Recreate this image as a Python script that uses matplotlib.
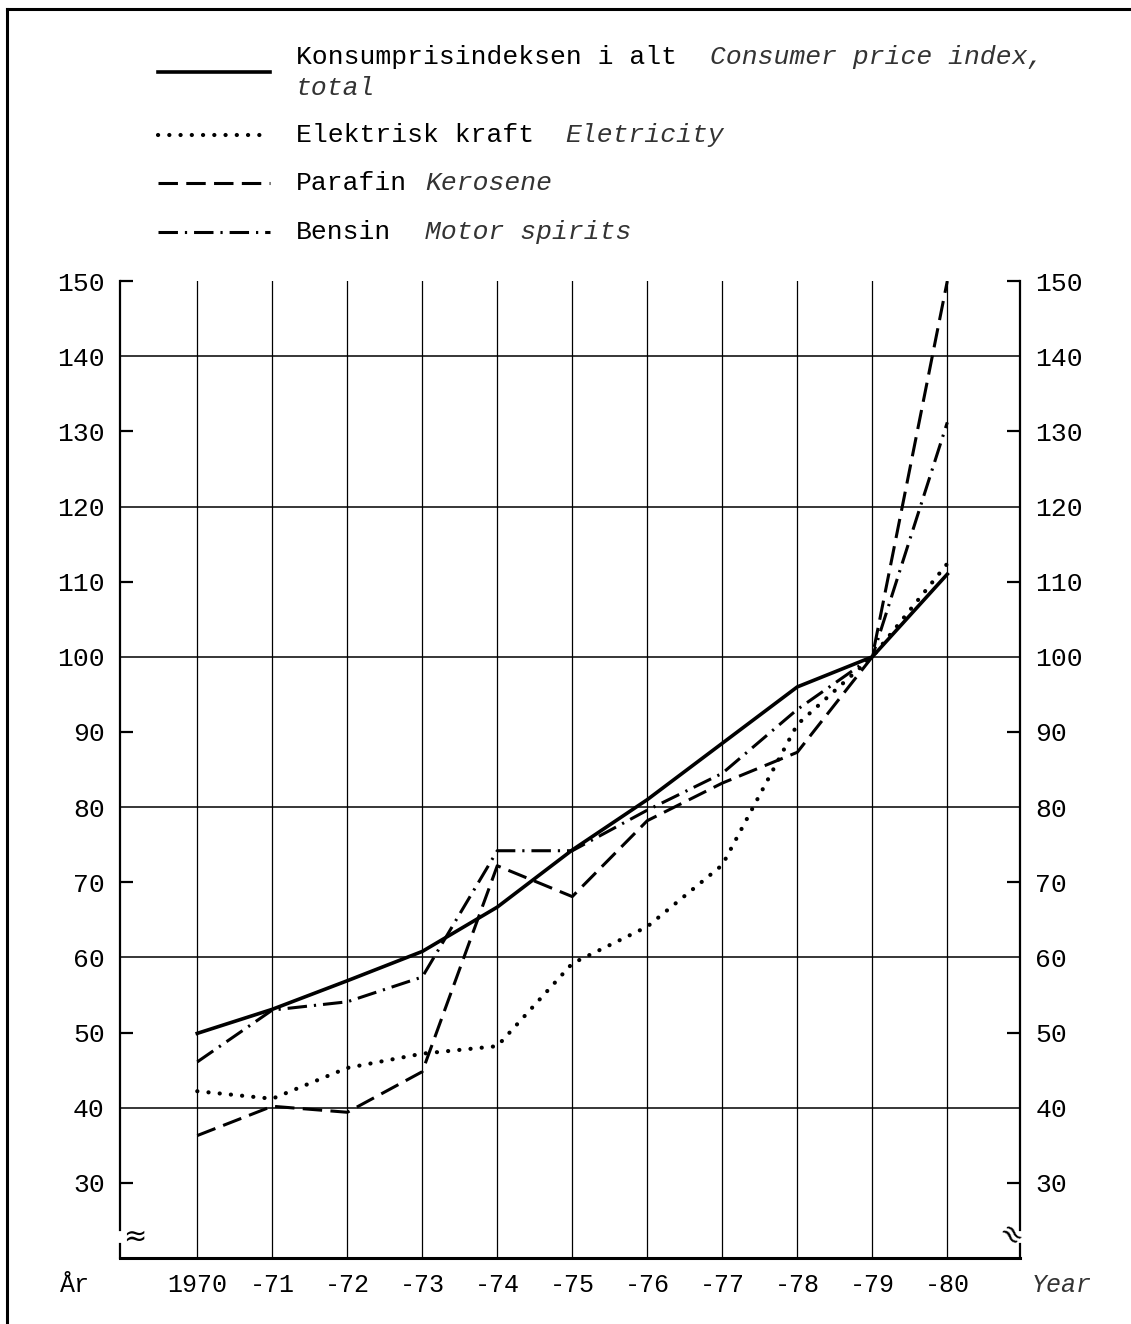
import matplotlib.pyplot as plt
from matplotlib.lines import Line2D

# price indices, 1979 = 100
years = [1970, 1971, 1972, 1973, 1974, 1975, 1976, 1977, 1978, 1979, 1980]
year_labels = ['1970', '-71', '-72', '-73', '-74', '-75', '-76', '-77', '-78', '-79', '-80']
cpi_total = [49.9, 53.1, 56.9, 60.8, 66.7, 74.3, 81.0, 88.5, 96.0, 100.0, 111.0]
electricity = [42.2, 41.2, 45.3, 47.2, 48.2, 59.2, 64.1, 72.3, 91.0, 100.0, 112.4]
kerosene = [36.3, 40.2, 39.4, 44.8, 72.2, 68.1, 78.2, 83.2, 87.3, 100.0, 150.0]
motor_spirits = [46.1, 53.0, 54.1, 57.4, 74.2, 74.2, 79.6, 84.5, 93.0, 100.0, 131.2]

y_labels = list(range(30, 151, 10))
y_marks = list(range(30, 151, 20))
grid_levels = list(range(40, 141, 20))

names_no = ['Konsumprisindeksen i alt', 'Elektrisk kraft', 'Parafin', 'Bensin']
names_en = ['Consumer price index,\ntotal', 'Eletricity', 'Kerosene', 'Motor spirits']

plt.rcParams['lines.scale_dashes'] = False
plt.rcParams['font.family'] = ['Liberation Mono', 'DejaVu Sans Mono']

styles = [
    dict(linestyle='-', linewidth=2.6),
    dict(linestyle=(0, (0.1, 8.0)), linewidth=3.0, dash_capstyle='round'),
    dict(linestyle=(0, (14, 6)), linewidth=2.2),
    dict(linestyle=(0, (14, 5, 1.6, 5)), linewidth=2.2),
]
series = [cpi_total, electricity, kerosene, motor_spirits]

fig = plt.figure(figsize=(11.31, 13.24), dpi=100)
ax = fig.add_axes([0.1061, 0.0498, 0.7958, 0.7379])

xlim = (1968.97, 1980.97)
ax.set_xlim(xlim)
ax.set_ylim(20, 150)

for vals, st in zip(series, styles):
    ax.plot(years, vals, color='black', **st)

for g in grid_levels:
    ax.axhline(g, color='black', linewidth=1.1, zorder=1)

ax.set_xticks(years)
ax.set_xticklabels(year_labels, fontsize=18)
ax.tick_params(axis='x', length=0, pad=11)
ax.grid(axis='x', color='black', linewidth=0.9)

ax.yaxis.remove_overlapping_locs = False
ax.set_yticks(y_labels)
ax.set_yticklabels([str(v) for v in y_labels], fontsize=19)
ax.set_yticks(y_marks, minor=True)
ax.tick_params(axis='y', which='major', length=0, left=True, right=True,
               labelleft=True, labelright=True, pad=11)
ax.tick_params(axis='y', which='minor', direction='in', length=9.5, width=1.6,
               left=True, right=True)

ax.spines['top'].set_visible(False)
ax.spines['bottom'].set_linewidth(2.2)
for side in ['left', 'right']:
    ax.spines[side].set_linewidth(1.6)
    ax.spines[side].set_bounds(23.8, 150)
    xs = xlim[0] if side == 'left' else xlim[1]
    ax.axvline(xs, ymin=0, ymax=0.014, color='black', linewidth=1.6, clip_on=False)

# axis break marks
ax.text(0.016, 0.022, '≈', transform=ax.transAxes, fontsize=20, ha='center',
        va='center', family='DejaVu Sans')
ax.text(0.988, 0.022, '≈', transform=ax.transAxes, fontsize=20, ha='center',
        va='center', family='DejaVu Sans', rotation=-45)

# axis labels
fig.text(75 / 1131, 1 - 1285 / 1324, 'År', fontsize=18, ha='center', va='center')
fig.text(1032 / 1131, 1 - 1285 / 1324, 'Year', fontsize=18, ha='left', va='center',
         style='italic', color='#333333')

# legend drawn by hand
row_y = [72, 135, 183, 232]
text_y = [57, 135, 183, 232]
en_x = [710, 565, 425, 425]
for i in range(4):
    y = 1 - row_y[i] / 1324
    fig.add_artist(Line2D([158 / 1131, 270 / 1131], [y, y], color='black',
                          transform=fig.transFigure, **styles[i]))
    ty = 1 - text_y[i] / 1324
    fig.text(296 / 1131, ty, names_no[i], fontsize=19, ha='left', va='center')
    if i == 0:
        fig.text(en_x[i] / 1131, ty, 'Consumer price index,', fontsize=19,
                 ha='left', va='center', style='italic', color='#333333')
        fig.text(296 / 1131, 1 - 88 / 1324, 'total', fontsize=19,
                 ha='left', va='center', style='italic', color='#333333')
    else:
        fig.text(en_x[i] / 1131, ty, names_en[i], fontsize=19, ha='left',
                 va='center', style='italic', color='#333333')

# page frame
fig.add_artist(Line2D([0.006, 0.006], [0.0, 0.9932], color='black', linewidth=2.2,
                      transform=fig.transFigure))
fig.add_artist(Line2D([0.006, 1.0], [0.9932, 0.9932], color='black', linewidth=2.2,
                      transform=fig.transFigure))

fig.savefig('out.png', dpi=100)
